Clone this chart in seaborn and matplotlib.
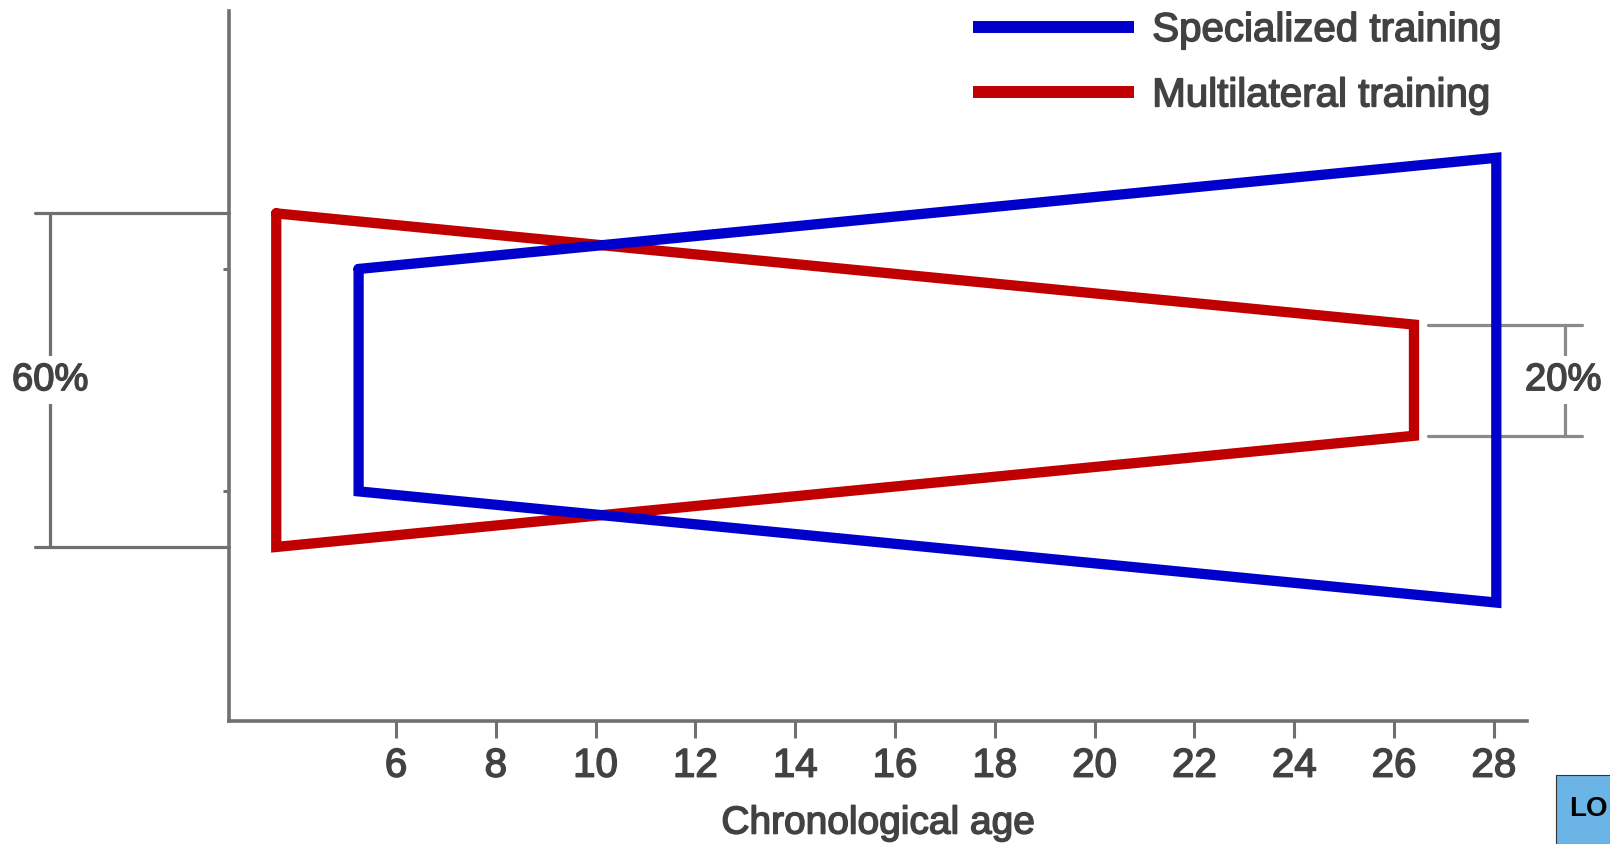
import matplotlib
matplotlib.use("Agg")
import matplotlib.pyplot as plt
import matplotlib.patheffects as pe
import numpy as np
import pandas as pd
import seaborn as sns
from matplotlib.patches import Rectangle

# Share of total training (%) at the start and end of each programme
programs = ["Specialized training", "Multilateral training"]
start_age = [5.25, 3.6]
end_age = [28.05, 26.4]
start_share = [40, 60]
end_share = [80, 20]
colors = ["#0000CC", "#C00000"]
age_ticks = [6, 8, 10, 12, 14, 16, 18, 20, 22, 24, 26, 28]

sns.set_style("white")
plt.rcParams["font.family"] = ["Liberation Sans", "DejaVu Sans"]

GREY = "#707070"
TEXT = "#424242"
heavy = [pe.withStroke(linewidth=1.1, foreground=TEXT)]

# Each programme is outlined as a closed trapezoid centred on zero
rows = []
for name, a0, a1, s0, s1 in zip(programs, start_age, end_age, start_share, end_share):
    verts = [(a0, s0 / 2), (a1, s1 / 2), (a1, -s1 / 2), (a0, -s0 / 2), (a0, s0 / 2)]
    for order, (x, y) in enumerate(verts):
        rows.append({"program": name, "order": order, "age": x, "share": y})
df = pd.DataFrame(rows)

W, H = 1610, 845
fig = plt.figure(figsize=(W / 100, H / 100), dpi=100)
ax = fig.add_axes([229 / W, 123 / H, 1298 / W, 710 / H])

sns.lineplot(data=df, x="age", y="share", hue="program", hue_order=programs,
             palette=dict(zip(programs, colors)), sort=False, estimator=None,
             linewidth=7.4, solid_joinstyle="miter", ax=ax)
ax.lines[0].set_zorder(4)
ax.lines[1].set_zorder(3)

ax.set_xlim(2.653, 28.665)
ax.set_ylim(-61.3, 66.4)

for side in ["top", "right"]:
    ax.spines[side].set_visible(False)
for side in ["left", "bottom"]:
    ax.spines[side].set_color(GREY)
    ax.spines[side].set_linewidth(2.6)

ax.set_xticks(age_ticks)
ax.set_xticklabels([str(t) for t in age_ticks])
ax.tick_params(axis="x", length=12.5, width=2.2, color=GREY, labelsize=29,
               labelcolor=TEXT, pad=6, direction="out", bottom=True)
for lab in ax.get_xticklabels():
    lab.set_path_effects(heavy)
ax.set_yticks([-20, 20])
ax.set_yticklabels([])
ax.tick_params(axis="y", length=4.5, width=2.2, color=GREY, direction="out", left=True)
ax.set_ylabel("")
ax.set_xlabel("Chronological age", fontsize=28, color=TEXT, labelpad=15,
              path_effects=heavy)

# Dimension brackets for the start and end widths
bk = dict(color=GREY, linewidth=2.3, clip_on=False, zorder=2)
ax.plot([-1.23, 2.653], [30, 30], **bk)
ax.plot([-1.23, 2.653], [-30, -30], **bk)
ax.plot([-0.93, -0.93], [-30, 30], **bk)
ax.text(-0.93, 0, "60%", fontsize=27.5, color=TEXT, ha="center", va="center",
        path_effects=heavy,
        bbox=dict(facecolor="white", edgecolor="none", pad=4), zorder=5, clip_on=False)

bk2 = dict(color="#8a8a8a", linewidth=2.3, clip_on=False, zorder=2)
ax.plot([26.68, 29.77], [10, 10], **bk2)
ax.plot([26.68, 29.77], [-10, -10], **bk2)
ax.plot([29.43, 29.43], [-10, 10], **bk2)
ax.text(29.39, 0, "20%", fontsize=27.5, color=TEXT, ha="center", va="center",
        path_effects=heavy,
        bbox=dict(facecolor="white", edgecolor="none", pad=4), zorder=2, clip_on=False)

handles, labels = ax.get_legend_handles_labels()
leg = ax.legend(handles, labels, loc="upper left", bbox_to_anchor=(973 / W, (H - 12) / H),
                bbox_transform=fig.transFigure, frameon=False, fontsize=29,
                handlelength=4.0, handletextpad=0.45, labelspacing=0.68,
                borderpad=0, borderaxespad=0)
for line in leg.get_lines():
    line.set_linewidth(8.6)
    line.set_solid_capstyle("butt")
for t in leg.get_texts():
    t.set_color(TEXT)
    t.set_path_effects(heavy)

# Corner badge
fig.patches.append(Rectangle((1556 / W, 0), 60 / W, 69 / H, transform=fig.transFigure,
                             facecolor="#6AB4E6", edgecolor="#333333", linewidth=0.8))
fig.text(1608 / W, 36 / H, "LO", fontsize=20, fontweight="bold", color="black",
         ha="right", va="center")

fig.savefig("out.png", dpi=100)
